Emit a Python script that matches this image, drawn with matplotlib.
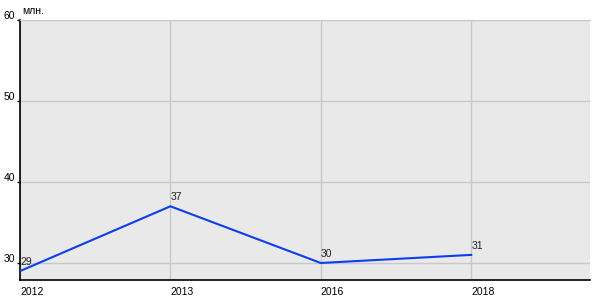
import matplotlib
matplotlib.use("Agg")
import matplotlib.pyplot as plt
import matplotlib.transforms as mtransforms

plt.rcParams["font.family"] = ["Liberation Sans", "DejaVu Sans"]

years = ["2012", "2013", "2016", "2018"]
values = [29, 37, 30, 31]
y_ticks = [30, 40, 50, 60]

fig = plt.figure(figsize=(6, 3), dpi=100)
ax = fig.add_axes([20/600, 20/300, 570/600, 260/300])
ax.set_facecolor("#e9e9e9")

x = list(range(len(years)))
ax.plot(x, values, color="#0a3ff0", lw=1.5, zorder=3)
for xi, v in zip(x, values):
    ax.annotate(str(v), (xi, v), xytext=(0, 3), textcoords="offset points",
                ha="left", va="bottom", fontsize=7.5, color="#222222")

ax.set_xlim(0, 3.79)
ax.set_ylim(27.9, 60)
ax.set_xticks(x)
ax.set_xticklabels(years, ha="left", fontsize=7.5)
ax.set_yticks(y_ticks)
ax.set_yticklabels([str(t) for t in y_ticks], fontsize=7.5, va="center")
ax.tick_params(axis="x", length=0, pad=5)
ax.tick_params(axis="y", length=2.2, width=1, pad=1.5)
# nudge y labels up a few pixels like the original
shift = mtransforms.ScaledTranslation(0, 3/72, fig.dpi_scale_trans)
for lbl in ax.get_yticklabels():
    lbl.set_transform(lbl.get_transform() + shift)
ax.grid(True, color="#c8c8c8", lw=1)
ax.set_axisbelow(True)

ax.spines["right"].set_visible(False)
ax.spines["top"].set_color("#c8c8c8")
ax.spines["left"].set_color("black")
ax.spines["bottom"].set_color("black")
ax.spines["left"].set_linewidth(1.2)
ax.spines["bottom"].set_linewidth(1.2)

fig.text(22/600, 1 - 11/300, "млн.", fontsize=7.5, ha="left", va="center")

fig.savefig("out.png", dpi=100)
